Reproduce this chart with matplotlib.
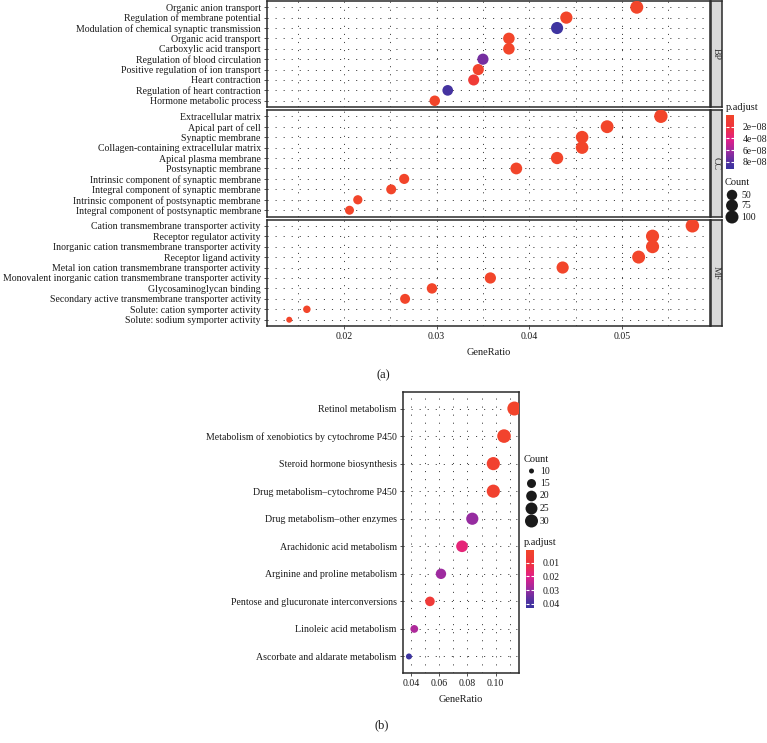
import numpy as np
import matplotlib
matplotlib.use("Agg")
import matplotlib.pyplot as plt
from matplotlib.colors import LinearSegmentedColormap, Normalize

plt.rcParams['font.family'] = ['Liberation Serif', 'DejaVu Serif']
plt.rcParams['lines.scale_dashes'] = False

# ---- panel (a): GO enrichment ----
bp_terms = ["Organic anion transport", "Regulation of membrane potential",
            "Modulation of chemical synaptic transmission", "Organic acid transport",
            "Carboxylic acid transport", "Regulation of blood circulation",
            "Positive regulation of ion transport", "Heart contraction",
            "Regulation of heart contraction", "Hormone metabolic process"]
bp_ratio = [0.0516, 0.0440, 0.0430, 0.0378, 0.0378, 0.0350, 0.0345, 0.0340, 0.0312, 0.0298]
bp_count = [90, 77, 75, 66, 66, 61, 60, 59, 54, 52]
bp_padj = [1e-10, 5e-10, 9.0e-08, 1e-10, 1e-10, 7.2e-08, 3e-09, 1.2e-08, 8.6e-08, 1e-10]

cc_terms = ["Extracellular matrix", "Apical part of cell", "Synaptic membrane",
            "Collagen-containing extracellular matrix", "Apical plasma membrane",
            "Postsynaptic membrane", "Intrinsic component of synaptic membrane",
            "Integral component of synaptic membrane",
            "Intrinsic component of postsynaptic membrane",
            "Integral component of postsynaptic membrane"]
cc_ratio = [0.0542, 0.0484, 0.0457, 0.0457, 0.0430, 0.0386, 0.0265, 0.0251, 0.0215, 0.0206]
cc_count = [98, 88, 83, 83, 78, 70, 48, 46, 39, 37]
cc_padj = [1e-12, 1e-12, 1e-11, 1e-11, 1e-11, 1e-10, 1e-10, 1e-10, 1e-10, 1e-10]

mf_terms = ["Cation transmembrane transporter activity", "Receptor regulator activity",
            "Inorganic cation transmembrane transporter activity",
            "Receptor ligand activity", "Metal ion cation transmembrane transporter activity",
            "Monovalent inorganic cation transmembrane transporter activity",
            "Glycosaminoglycan binding", "Secondary active transmembrane transporter activity",
            "Solute: cation symporter activity", "Solute: sodium symporter activity"]
mf_ratio = [0.0576, 0.0533, 0.0533, 0.0518, 0.0436, 0.0358, 0.0295, 0.0266, 0.0160, 0.0141]
mf_count = [100, 93, 93, 90, 76, 62, 51, 46, 28, 25]
mf_padj = [1e-12, 1e-11, 1e-11, 1e-11, 1e-10, 1e-10, 1e-10, 1e-10, 1e-10, 1e-10]

go_ticks = [0.02, 0.03, 0.04, 0.05]
go_count_legend = [50, 75, 100]
go_padj_ticks = [2e-08, 4e-08, 6e-08, 8e-08]
go_padj_labels = ["2e\u221208", "4e\u221208", "6e\u221208", "8e\u221208"]

# ---- panel (b): KEGG enrichment ----
kegg_terms = ["Retinol metabolism", "Metabolism of xenobiotics by cytochrome P450",
              "Steroid hormone biosynthesis", "Drug metabolism\u2013cytochrome P450",
              "Drug metabolism\u2013other enzymes", "Arachidonic acid metabolism",
              "Arginine and proline metabolism", "Pentose and glucuronate interconversions",
              "Linoleic acid metabolism", "Ascorbate and aldarate metabolism"]
kegg_ratio = [0.1132, 0.1059, 0.0983, 0.0983, 0.0834, 0.0761, 0.0612, 0.0534, 0.0423, 0.0385]
kegg_count = [30, 28, 26, 26, 22, 20, 16, 14, 11, 10]
kegg_padj = [0.001, 0.002, 0.003, 0.003, 0.030, 0.018, 0.029, 0.007, 0.027, 0.043]

kegg_ticks = [0.04, 0.06, 0.08, 0.10]
kegg_count_legend = [10, 15, 20, 25, 30]
kegg_padj_ticks = [0.01, 0.02, 0.03, 0.04]

cmap = LinearSegmentedColormap.from_list(
    "padj", [(0, '#F2452A'), (0.24, '#EF3340'), (0.46, '#E2208A'),
             (0.68, '#9A2CA0'), (0.9, '#4B32A0'), (1, '#3B34A0')])

W, H = 767, 743
fig = plt.figure(figsize=(W / 100, H / 100), dpi=100)


def px_axes(x0, y0, x1, y1):
    return fig.add_axes([x0 / W, 1 - y1 / H, (x1 - x0) / W, (y1 - y0) / H])


def size_map(c, cmin, cmax, dmin, dmax):
    # diameter in px, area-like scaling, then matplotlib s (pt^2)
    t = (np.asarray(c, float) - cmin) / (cmax - cmin)
    d = dmin + (dmax - dmin) * np.sqrt(np.clip(t, 0, 1))
    return (d * 0.72) ** 2


dots = (0, (0.8, 5))
txt = '#1a1a1a'
fs = 7.1


def style_panel(ax, n, xlim, major, minor):
    ax.set_xlim(*xlim)
    ax.set_ylim(n - 0.4, -0.6)
    ax.set_xticks(major)
    ax.set_xticks(minor, minor=True)
    ax.set_yticks(range(n))
    ax.set_axisbelow(True)
    ax.grid(True, which='both', axis='x', linestyle=dots, color='#444444', linewidth=0.7)
    ax.grid(True, which='major', axis='y', linestyle=dots, color='#444444', linewidth=0.7)
    for s in ax.spines.values():
        s.set_linewidth(1.1)
        s.set_color('#2a2a2a')
    ax.tick_params(axis='both', which='major', length=2.5, width=0.6, color='#333333',
                   labelsize=fs, labelcolor=txt, pad=2)
    ax.tick_params(axis='x', which='minor', length=0)


# top panels
go_norm = Normalize(vmin=0, vmax=9.2e-08)
go_cmin, go_cmax = 25, 100
panels = [("BP", bp_terms, bp_ratio, bp_count, bp_padj, 1, 107),
          ("CC", cc_terms, cc_ratio, cc_count, cc_padj, 110, 216.5),
          ("MF", mf_terms, mf_ratio, mf_count, mf_padj, 219.5, 326)]
go_minor = [0.015, 0.025, 0.035, 0.045, 0.055]
for name, terms, ratio, count, padj, y0, y1 in panels:
    ax = px_axes(267, y0, 710, y1)
    style_panel(ax, len(terms), (0.0117, 0.0595), go_ticks, go_minor)
    ax.scatter(ratio, range(len(terms)), s=size_map(count, go_cmin, go_cmax, 6, 13.5),
               c=padj, cmap=cmap, norm=go_norm, edgecolors='none', zorder=3)
    ax.set_yticklabels(terms)
    if name == "MF":
        ax.set_xticklabels(["0.02", "0.03", "0.04", "0.05"])
        ax.set_xlabel("GeneRatio", fontsize=7.5, color=txt, labelpad=5)
    else:
        ax.tick_params(axis='x', which='major', length=0, labelbottom=False)
    st = px_axes(710.5, y0, 722, y1)
    st.set_facecolor('#D9D9D9')
    st.set_xticks([])
    st.set_yticks([])
    for s in st.spines.values():
        s.set_linewidth(1.1)
        s.set_color('#2a2a2a')
    st.text(0.5, 0.5, name, rotation=270, ha='center', va='center', fontsize=7,
            color='#333333', transform=st.transAxes)

# bottom panel
kax = px_axes(403, 392, 519, 673)
style_panel(kax, len(kegg_terms), (0.0343, 0.1165), kegg_ticks, [0.05, 0.07, 0.09, 0.11])
kegg_norm = Normalize(vmin=0.0005, vmax=0.0432)
k_cmin, k_cmax = 10, 30
kax.scatter(kegg_ratio, range(len(kegg_terms)),
            s=size_map(kegg_count, k_cmin, k_cmax, 6, 14), c=kegg_padj, cmap=cmap,
            norm=kegg_norm, edgecolors='none', zorder=3)
kax.set_yticklabels(kegg_terms)
kax.set_xticklabels(["0.04", "0.06", "0.08", "0.10"])
kax.set_xlabel("GeneRatio", fontsize=7.5, color=txt, labelpad=5)


def colorbar(x0, y0, x1, y1, norm, ticks, labels, tx, ty):
    # smooth gradient, low values on top like the ggplot guide
    cax = px_axes(x0, y0, x1, y1)
    grad = np.linspace(norm.vmin, norm.vmax, 256).reshape(-1, 1)
    cax.imshow(grad, cmap=cmap, norm=norm, aspect='auto', interpolation='bilinear',
               extent=[0, 1, norm.vmax, norm.vmin])
    cax.set_xlim(0, 1)
    cax.set_ylim(norm.vmax, norm.vmin)
    for s in cax.spines.values():
        s.set_visible(False)
    cax.set_xticks([])
    cax.set_yticks(ticks)
    cax.set_yticklabels(labels)
    cax.yaxis.set_ticks_position('both')
    cax.tick_params(axis='y', left=True, right=True, labelleft=False, labelright=True,
                    direction='in', length=2, width=0.8, color='white', labelsize=7,
                    labelcolor=txt, pad=6)
    fig.text(tx / W, 1 - ty / H, "p.adjust", fontsize=7.5, color=txt, va='baseline')


colorbar(726, 115, 734, 169, go_norm, go_padj_ticks, go_padj_labels, 726, 110)
colorbar(526, 550, 534, 608, kegg_norm, kegg_padj_ticks,
         ["0.01", "0.02", "0.03", "0.04"], 524, 545)

# count legends on an overlay in pixel coordinates
ov = fig.add_axes([0, 0, 1, 1])
ov.set_xlim(0, W)
ov.set_ylim(H, 0)
ov.axis('off')

ov.text(725, 185, "Count", fontsize=7.5, color=txt, va='baseline')
for v, y in zip(go_count_legend, [195, 205.5, 217]):
    ov.scatter(732, y, s=size_map(v, go_cmin, go_cmax, 7, 13), color='#1a1a1a',
               edgecolors='none')
    ov.text(741, y, str(v), fontsize=7, color=txt, va='center')

ov.text(524, 462, "Count", fontsize=7.5, color=txt, va='baseline')
for v, y in zip(kegg_count_legend, [471, 483.5, 496, 508.5, 521]):
    ov.scatter(531.5, y, s=size_map(v, k_cmin, k_cmax, 5, 13), color='#1a1a1a',
               edgecolors='none')
    ov.text(540, y, str(v), fontsize=7, color=txt, va='center')

ov.text(383, 375, "(a)", fontsize=9, color=txt, ha='center', va='center')
ov.text(382, 725, "(b)", fontsize=9, color=txt, ha='center', va='center')

fig.savefig("out.png", dpi=100)
